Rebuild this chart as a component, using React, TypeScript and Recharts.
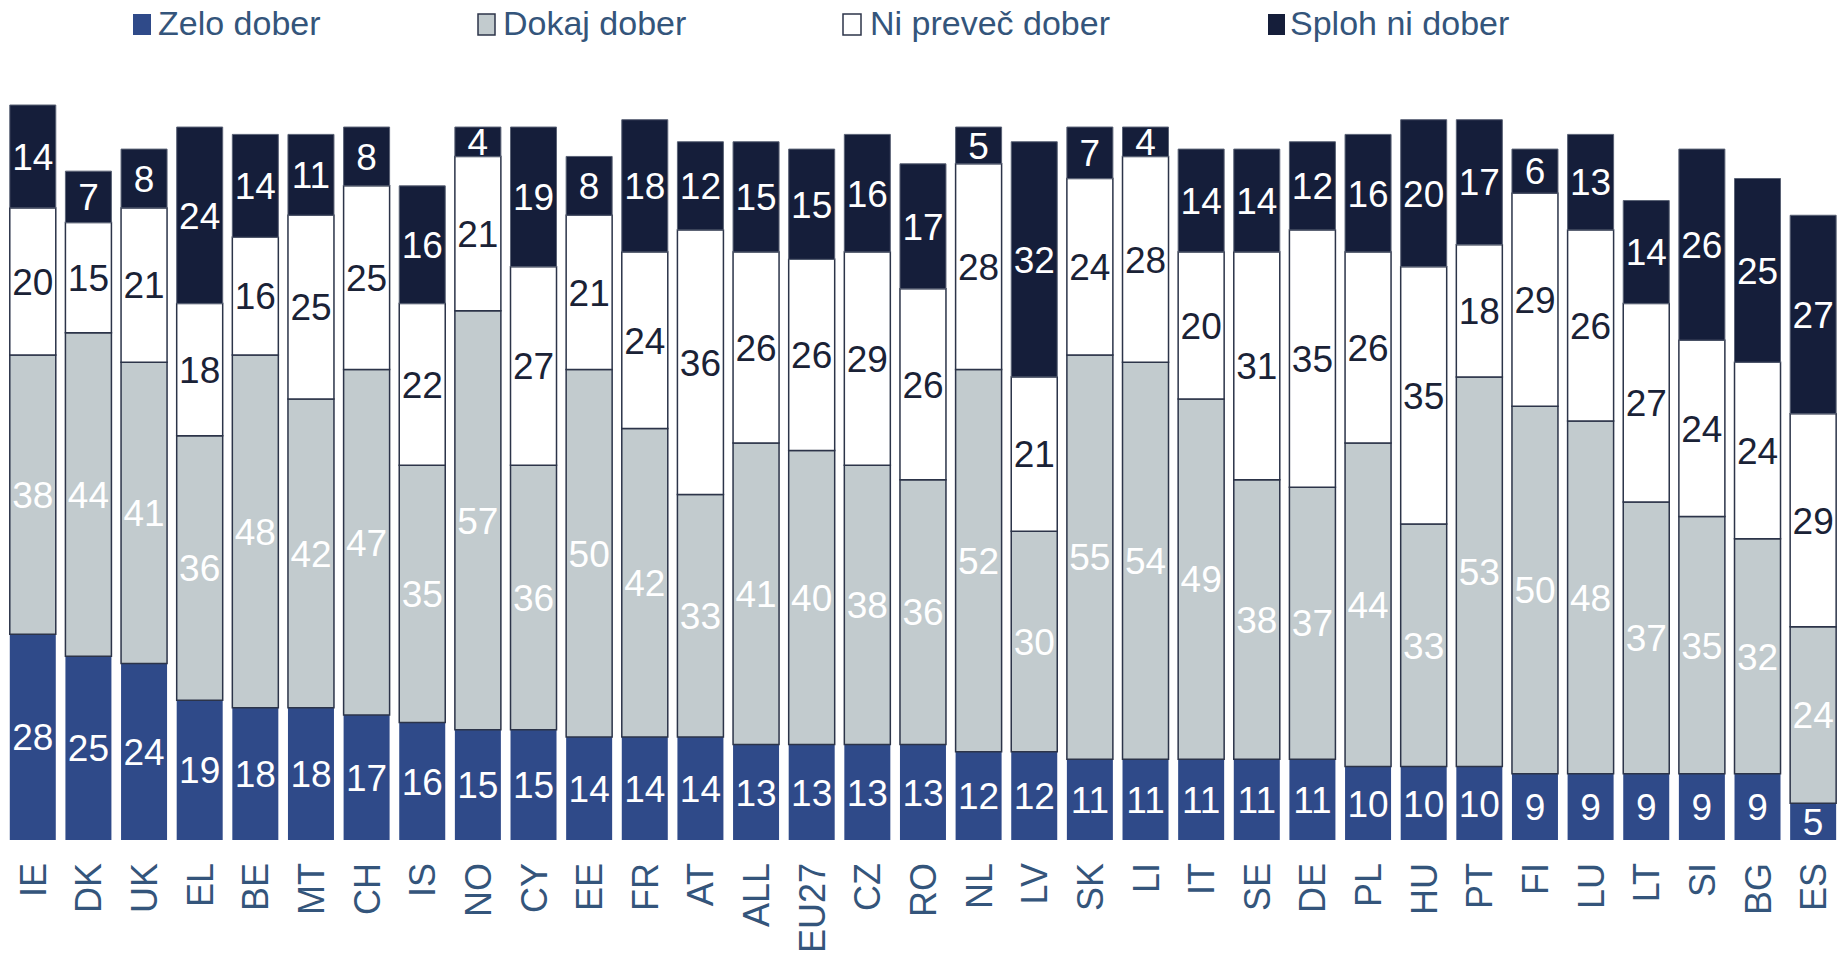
import React from "react";
import { BarChart, Bar, XAxis, YAxis, LabelList } from "recharts";

const categories = ["IE","DK","UK","EL","BE","MT","CH","IS","NO","CY","EE","FR","AT","ALL","EU27","CZ","RO","NL","LV","SK","LI","IT","SE","DE","PL","HU","PT","FI","LU","LT","SI","BG","ES"];
const zelo = [28,25,24,19,18,18,17,16,15,15,14,14,14,13,13,13,13,12,12,11,11,11,11,11,10,10,10,9,9,9,9,9,5];
const dokaj = [38,44,41,36,48,42,47,35,57,36,50,42,33,41,40,38,36,52,30,55,54,49,38,37,44,33,53,50,48,37,35,32,24];
const ni = [20,15,21,18,16,25,25,22,21,27,21,24,36,26,26,29,26,28,21,24,28,20,31,35,26,35,18,29,26,27,24,24,29];
const sploh = [14,7,8,24,14,11,8,16,4,19,8,18,12,15,15,16,17,5,32,7,4,14,14,12,16,20,17,6,13,14,26,25,27];

const seriesNames = ["Zelo dober", "Dokaj dober", "Ni preveč dober", "Sploh ni dober"];

const data = categories.map((c, i) => ({
  name: c,
  zelo: zelo[i],
  dokaj: dokaj[i],
  ni: ni[i],
  sploh: sploh[i],
}));

const FONT = "'Liberation Sans', Arial, sans-serif";
const C_BLUE = "#2F4A89";
const C_GREY = "#C2CBCE";
const C_WHITE = "#FFFFFF";
const C_NAVY = "#151E3A";
const C_STROKE = "#2C3449";
const C_TEXT = "#34557B";

const Tick = (props: any) => {
  const { x, y, payload } = props;
  const ty = y + 15;
  return (
    <text
      x={0}
      y={0}
      transform={`translate(${x},${ty}) rotate(-90)`}
      textAnchor="end"
      dy="0.36em"
      fill={C_TEXT}
      fontSize={36}
      fontFamily={FONT}
    >
      {payload.value}
    </text>
  );
};

const makeLabel = (fill: string) => (props: any) => {
  const { x, y, width, height, value } = props;
  const cx = Number(x) + Number(width) / 2;
  const cy = Number(y) + Number(height) / 2;
  return (
    <text
      x={cx}
      y={cy}
      textAnchor="middle"
      dy="0.36em"
      fill={fill}
      fontSize={37}
      fontFamily={FONT}
    >
      {value}
    </text>
  );
};

const legendItems = [
  { sq: 133, w: 18, tx: 158, color: C_BLUE, stroke: "none" },
  { sq: 478, w: 17, tx: 503, color: C_GREY, stroke: C_STROKE },
  { sq: 843, w: 18, tx: 870, color: C_WHITE, stroke: C_STROKE },
  { sq: 1268, w: 17, tx: 1290, color: C_NAVY, stroke: "none" },
];

export default function App() {
  return (
    <div style={{ position: "absolute", left: 0, top: 0, width: 1845, height: 958, background: "#fff" }}>
      <BarChart
        width={1845}
        height={958}
        data={data}
        margin={{ top: 105, right: 4, bottom: 38, left: 5 }}
        barCategoryGap="8.6%"
      >
        <XAxis dataKey="name" axisLine={false} tickLine={false} height={80} interval={0} tick={<Tick />} />
        <YAxis hide domain={[0, 100]} />
        <Bar dataKey="zelo" stackId="a" fill={C_BLUE} isAnimationActive={false} name={seriesNames[0]}>
          <LabelList dataKey="zelo" content={makeLabel("#FFFFFF")} />
        </Bar>
        <Bar dataKey="dokaj" stackId="a" fill={C_GREY} stroke={C_STROKE} strokeWidth={1.5} isAnimationActive={false} name={seriesNames[1]}>
          <LabelList dataKey="dokaj" content={makeLabel("#FFFFFF")} />
        </Bar>
        <Bar dataKey="ni" stackId="a" fill={C_WHITE} stroke={C_STROKE} strokeWidth={1.5} isAnimationActive={false} name={seriesNames[2]}>
          <LabelList dataKey="ni" content={makeLabel("#1A2236")} />
        </Bar>
        <Bar dataKey="sploh" stackId="a" fill={C_NAVY} stroke="#5A6275" strokeWidth={1} isAnimationActive={false} name={seriesNames[3]}>
          <LabelList dataKey="sploh" content={makeLabel("#FFFFFF")} />
        </Bar>
      </BarChart>
      <svg
        width={1845}
        height={60}
        style={{ position: "absolute", left: 0, top: 0, pointerEvents: "none" }}
      >
        {legendItems.map((it, i) => (
          <g key={i}>
            <rect x={it.sq} y={14} width={it.w} height={21} fill={it.color} stroke={it.stroke} strokeWidth={1.5} />
            <text x={it.tx} y={35} fontSize={34} fontFamily={FONT} fill={C_TEXT}>
              {seriesNames[i]}
            </text>
          </g>
        ))}
      </svg>
    </div>
  );
}
